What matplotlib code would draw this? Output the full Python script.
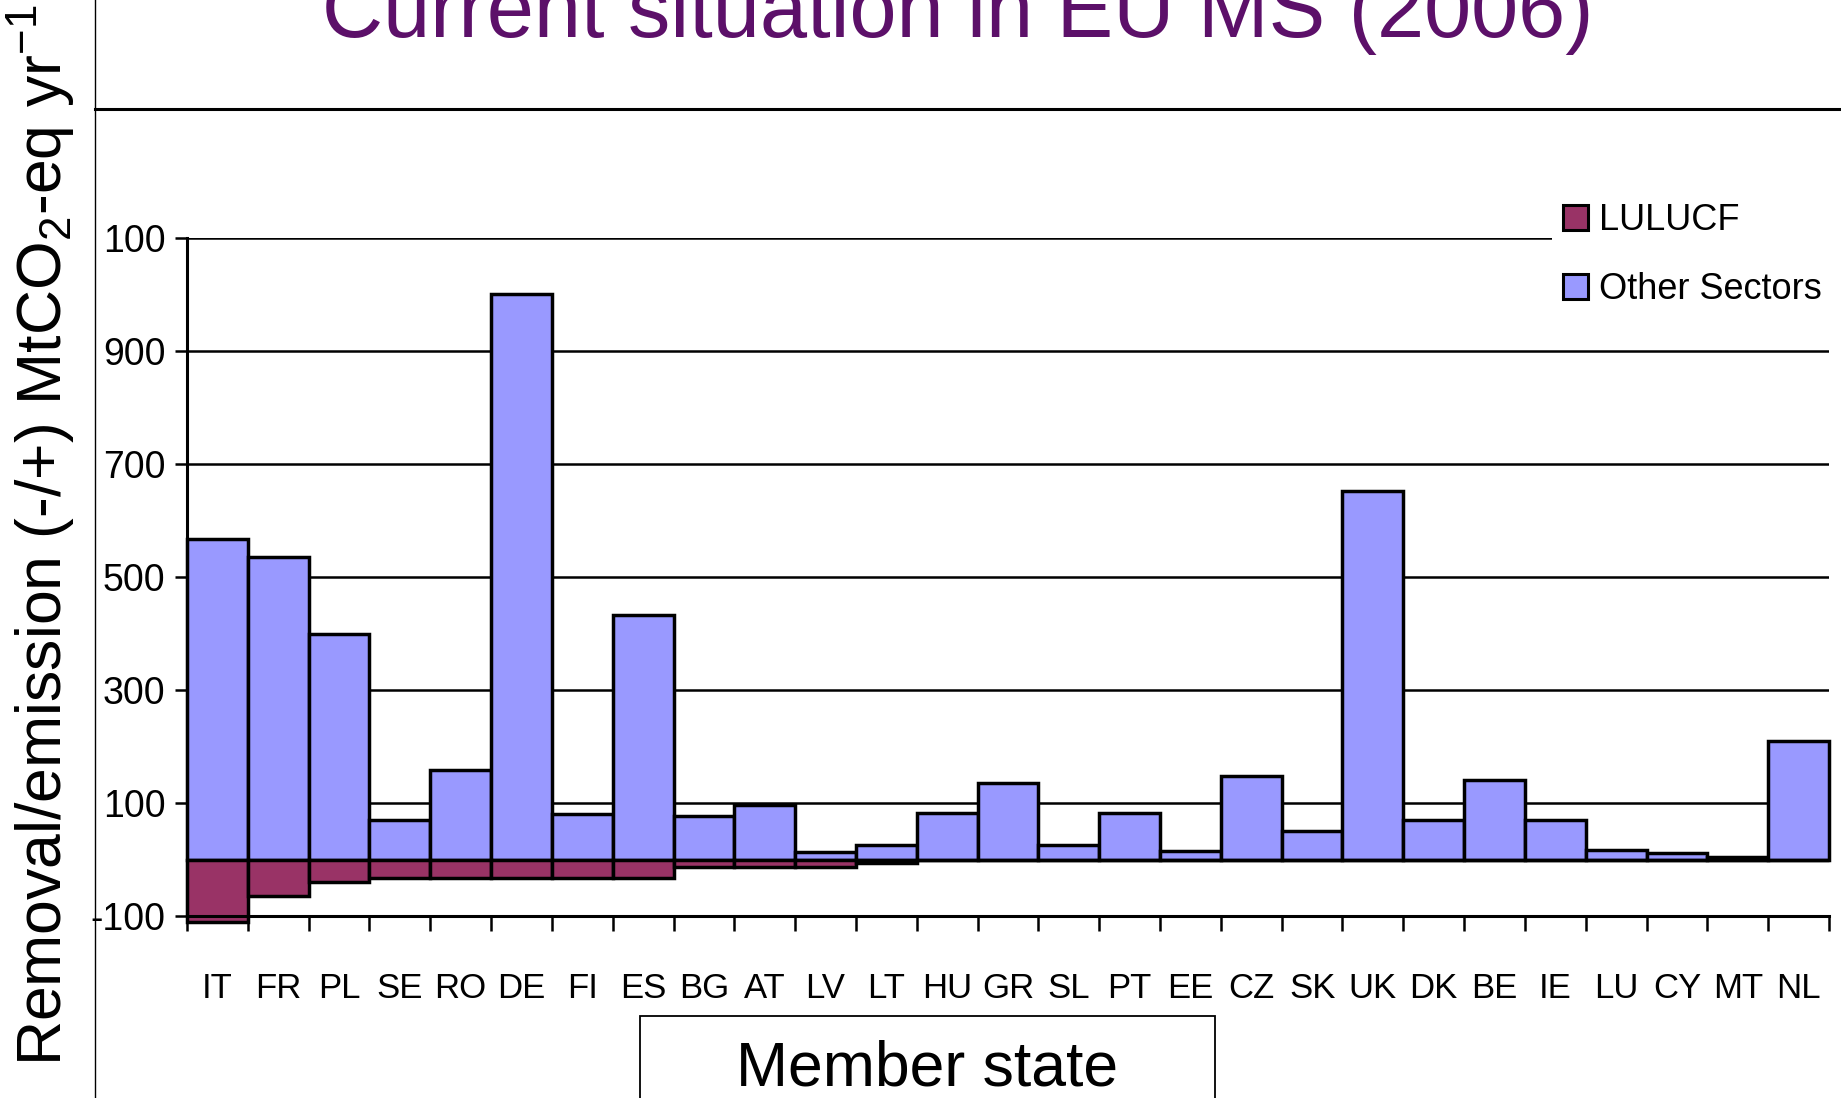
import matplotlib
matplotlib.use('Agg')
import matplotlib.pyplot as plt
from matplotlib.patches import Patch, Rectangle
from matplotlib.lines import Line2D
import numpy as np

plt.rcParams['font.family'] = ['Liberation Sans', 'DejaVu Sans']
plt.rcParams['mathtext.default'] = 'regular'

# ---------------- data ----------------
countries = ['IT', 'FR', 'PL', 'SE', 'RO', 'DE', 'FI', 'ES', 'BG', 'AT', 'LV', 'LT', 'HU', 'GR',
             'SL', 'PT', 'EE', 'CZ', 'SK', 'UK', 'DK', 'BE', 'IE', 'LU', 'CY', 'MT', 'NL']
other_sectors = [567, 535, 399, 70, 159, 1001, 81, 432, 77, 96, 13, 25, 82, 135,
                 25, 83, 15, 147, 50, 652, 70, 140, 70, 17, 11, 5, 210]
lulucf = [-110, -65, -39, -33, -33, -33, -33, -33, -14, -14, -14, -7, 0, 0,
          0, 0, 0, 0, 0, 0, 0, 0, 0, 0, 0, 0, 0]
ytick_values = [-100, 100, 300, 500, 700, 900, 1100]
ytick_labels = ['-100', '100', '300', '500', '700', '900', '100']

title = 'Current situation in EU MS (2006)'
ylabel = 'Removal/emission (-/+) MtCO$_2$-eq yr$^{-1}$'
xlabel = 'Member state'

OTHER_C = '#9999FF'
LULUCF_C = '#993366'

W, H = 1841, 1098
fig = plt.figure(figsize=(W / 100, H / 100), dpi=100)
ax = fig.add_axes([187 / W, 1 - 916 / H, (1829 - 187) / W, (916 - 238) / H])

x = np.arange(len(countries))
ax.bar(x, other_sectors, width=1.0, color=OTHER_C, edgecolor='black', linewidth=2.5,
       zorder=2, clip_on=False)
ax.bar(x, lulucf, width=1.0, color=LULUCF_C, edgecolor='black', linewidth=2.5,
       zorder=2, clip_on=False)

ax.set_xlim(-0.5, len(countries) - 0.5)
ax.set_ylim(-100, 1100)

# y axis
ax.set_yticks(ytick_values)
ax.set_yticklabels(ytick_labels, fontsize=27)
ax.tick_params(axis='y', direction='out', length=8.5, width=1.8, pad=7)
ax.yaxis.grid(True, color='black', linewidth=1.8)
ax.set_axisbelow(True)

# x axis: ticks between categories, labels centered
ax.set_xticks(np.arange(len(countries) + 1) - 0.5)
ax.set_xticklabels([])
ax.tick_params(axis='x', which='major', direction='out', length=10.5, width=1.8)
ax.set_xticks(x, minor=True)
ax.set_xticklabels(countries, minor=True, fontsize=25,
                   family=['Liberation Sans Narrow', 'Liberation Sans', 'DejaVu Sans'])
ax.tick_params(axis='x', which='minor', length=0, pad=40)

for s in ['top', 'right']:
    ax.spines[s].set_visible(False)
for s in ['left', 'bottom']:
    ax.spines[s].set_linewidth(2.2)

# legend
handles = [Patch(facecolor=LULUCF_C, edgecolor='black', linewidth=2.2),
           Patch(facecolor=OTHER_C, edgecolor='black', linewidth=2.2)]
fig.legend(handles, ['LULUCF', 'Other Sectors'], loc='upper left',
           bbox_to_anchor=(1552 / W, 1 - 192 / H), fontsize=26,
           handlelength=0.7, handleheight=0.7, handletextpad=0.3,
           labelspacing=0.95, borderpad=0.3, borderaxespad=0,
           frameon=True, facecolor='white', edgecolor='none', framealpha=1,
           fancybox=False)

# frame lines of the slide
fig.add_artist(Line2D([95 / W, 95 / W], [0, 1], transform=fig.transFigure,
                      color='black', linewidth=1.0))
fig.add_artist(Line2D([95 / W, 1], [1 - 109 / H, 1 - 109 / H], transform=fig.transFigure,
                      color='black', linewidth=2.2))

# x label box
fig.add_artist(Rectangle((640 / W, -0.02), (1215 - 640) / W, (1098 - 1016) / H + 0.02,
                         transform=fig.transFigure, fill=False, edgecolor='black',
                         linewidth=1.3))
fig.text(927.5 / W, 12 / H, xlabel, ha='center', va='baseline', fontsize=45)

# title
fig.text(958 / W, 1 - 37 / H, title, ha='center', va='baseline', fontsize=61,
         color='#5C1069')

# y label
fig.text(41 / W, 32 / H, ylabel, rotation=90, ha='center', va='bottom', fontsize=45)

fig.savefig('out.png', dpi=100)
